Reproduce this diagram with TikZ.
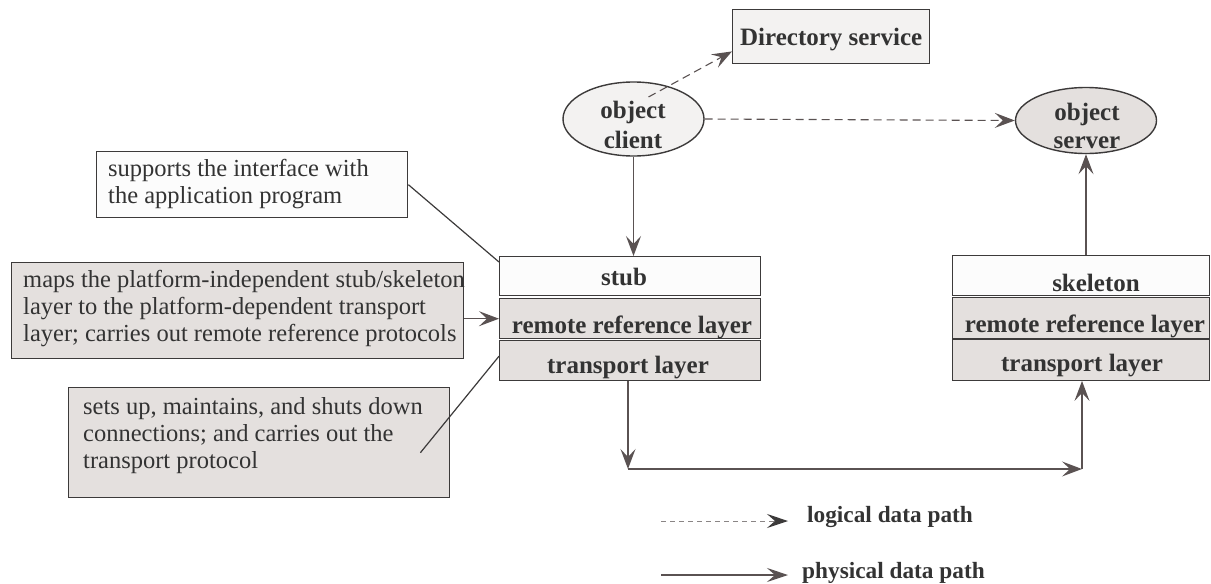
\documentclass[tikz,border=0pt]{standalone}
\usepackage{fontspec}
\setmainfont{Liberation Serif}
\usetikzlibrary{arrows.meta,calc,shapes.geometric}
\definecolor{ln}{HTML}{5A5252}
\definecolor{bd}{HTML}{3C3A3A}
\definecolor{tx}{HTML}{333333}
\definecolor{lg}{HTML}{8A8585}
\definecolor{lightf}{HTML}{F3F2F1}
\definecolor{whitef}{HTML}{FCFCFC}
\definecolor{grayf}{HTML}{E4E0DE}
\begin{document}
\begin{tikzpicture}[x=1pt,y=-1pt,
  box/.style={draw=bd, line width=1.4pt, inner sep=0pt, anchor=north west},
  note/.style={text=tx, font=\fontsize{24.5}{27}\selectfont, align=left, anchor=base west, inner sep=0pt},
  bold/.style={text=tx, font=\fontsize{25}{30}\selectfont\bfseries, inner sep=0pt},
  legt/.style={text=tx, font=\fontsize{23.3}{28}\selectfont\bfseries, inner sep=0pt, anchor=base west},
  oval/.style={draw=bd, line width=1.4pt, ellipse, inner sep=0pt},
  arr/.style={draw=ln, line width=1.5pt, -{Stealth[length=20pt,width=15pt,inset=8pt]}},
  darr/.style={draw=ln, line width=1.1pt, dash pattern=on 8pt off 5pt, -{Stealth[length=20pt,width=15pt,inset=8pt]}},
  legarr/.style={draw=ln, line width=1.1pt, -{Stealth[length=21pt,width=14pt,inset=8pt]}},
  legdarr/.style={draw=lg, line width=1pt, dash pattern=on 5pt off 4pt, -{Stealth[length=21pt,width=14pt,inset=8pt,color=bd]}},
  lead/.style={draw=bd, line width=1.2pt}]
\useasboundingbox (0,0) rectangle (1211,584);

% top
\node[box, fill=lightf, minimum width=197, minimum height=54] (dir) at (732,9) {};
\node[bold, anchor=base] (dirt) at (dir.center |- 0,45) {Directory service};

\node[oval, fill=lightf, minimum width=141, minimum height=74] (cli) at (633.5,119) {};
\node[bold, anchor=base] (cli1) at (633,118) {object};
\node[bold, anchor=base] (cli2) at (633,148) {client};

\node[oval, fill=grayf, minimum width=141, minimum height=66] (srv) at (1086,120.5) {};
\node[bold, anchor=base] (srv1) at (1087,120) {object};
\node[bold, anchor=base] (srv2) at (1087,148) {server};

% left stack
\node[box, fill=whitef, minimum width=261, minimum height=39] (stub) at (499,256) {};
\node[box, fill=grayf, minimum width=261, minimum height=40] (rrl) at (499,298) {};
\node[box, fill=grayf, minimum width=261, minimum height=40] (tl) at (499,339.5) {};
\node[bold, anchor=base] (stubt) at (624,285) {stub};
\node[bold, anchor=base] (rrlt) at (632,333) {remote reference layer};
\node[bold, anchor=base] (tlt) at (628,373) {transport layer};

% right stack
\node[box, fill=whitef, minimum width=257, minimum height=40] (skel) at (952,255) {};
\node[box, fill=grayf, minimum width=257, minimum height=41] (rrl2) at (952,297) {};
\node[box, fill=grayf, minimum width=257, minimum height=41] (tl2) at (952,338.5) {};
\node[bold, anchor=base] (skelt) at (1096,291) {skeleton};
\node[bold, anchor=base] (rrl2t) at (1085,332) {remote reference layer};
\node[bold, anchor=base] (tl2t) at (1082,371) {transport layer};

% notes
\node[box, fill=whitef, minimum width=311, minimum height=66] (sup) at (96,151) {};
\node[note] (supt) at (108,203) {supports the interface with\\the application program};

\node[box, fill=grayf, minimum width=452, minimum height=96] (maps) at (11,262) {};
\node[note] (mapst) at (23,341) {maps the platform-independent stub/skeleton\\layer to the platform-dependent transport\\layer; carries out remote reference protocols};

\node[box, fill=grayf, minimum width=381, minimum height=110] (sets) at (68,387) {};
\node[note] (setst) at (83,468) {sets up, maintains, and shuts down\\connections; and carries out the\\transport protocol};

% leaders
\draw[lead] (sup.east) -- ($(stub.north west)+(0,6)$);
\draw[arr] (maps.east |- rrl.west) -- (rrl.west);
\draw[lead] ($(sets.east)+(-30,10)$) -- ($(tl.west)+(0,-4)$);

% logical paths
\draw[darr] ($(cli.center)+(15,-22)$) -- ($(dir.south west)+(0,-13)$);
\draw[darr] (cli.east) -- (srv.west);

% physical paths
\draw[arr] (cli.south) -- (cli.south |- stub.north);
\draw[arr] (srv.south |- skel.north) -- (srv.south);
\coordinate (c1) at (628,469);
\coordinate (c2) at (1082,469);
\draw[arr] (tl.south -| c1) -- (c1);
\draw[arr] (c1) -- (c2);
\draw[arr] (c2) -- (c2 |- tl2.south);

% legend
\coordinate (la) at (661,521);
\coordinate (lb) at (788,521);
\coordinate (pa) at (661,575);
\coordinate (pb) at (788,575);
\draw[legdarr] (la) -- (lb);
\draw[legarr] (pa) -- (pb);
\node[legt] (logt) at (807,522) {logical data path};
\node[legt] (phyt) at (802,578) {physical data path};
\end{tikzpicture}
\end{document}
